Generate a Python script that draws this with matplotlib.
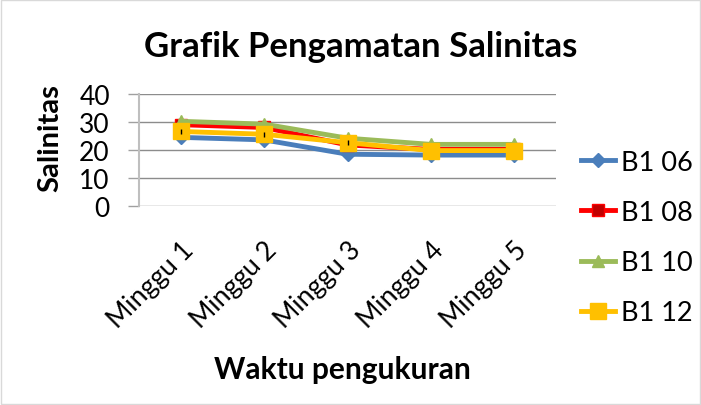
import numpy as np
import matplotlib.pyplot as plt

# data
minggu = ['Minggu 1', 'Minggu 2', 'Minggu 3', 'Minggu 4', 'Minggu 5']
b1_06 = [24.5, 23.6, 18.5, 18.2, 18.2]
b1_08 = [29.0, 28.0, 21.8, 20.2, 20.2]
b1_10 = [30.2, 29.2, 24.2, 22.0, 22.0]
b1_12 = [26.6, 25.6, 22.6, 19.8, 19.8]
err_b1_12 = [0.9, 0.9, 0.9, 0, 0]

plt.rcParams['font.family'] = ['Lato', 'DejaVu Sans']

fig = plt.figure(figsize=(7.01, 4.06), dpi=100)
ax = fig.add_axes([0.1983, 0.4894, 0.7932 - 0.1983, 0.7667 - 0.4894])

x = np.arange(len(minggu))
ax.plot(x, b1_06, color='#4A7EBB', lw=3.5, marker='D', ms=7, label='B1 06', zorder=3)
ax.plot(x, b1_08, color='#FF0000', lw=3.5, marker='s', ms=9, mfc='#C00000', mec='#FF0000', label='B1 08', zorder=3)
ax.plot(x, b1_10, color='#9BBB59', lw=3.5, marker='^', ms=9, label='B1 10', zorder=3)
ax.plot(x, b1_12, color='#FFC000', lw=3.5, marker='s', ms=11, label='B1 12', zorder=4)
ax.errorbar(x, b1_12, yerr=err_b1_12, fmt='none', ecolor='black', elinewidth=1, capsize=0, zorder=5)

ax.set_xlim(-0.5, 4.5)
ax.set_ylim(0, 40)
ax.set_yticks([0, 10, 20, 30, 40])
ax.set_xticks(x)
ax.set_xticklabels(minggu, rotation=45, ha='right', rotation_mode='anchor')
ax.tick_params(axis='y', labelsize=19, length=8, width=1, color='#A0A0A0', pad=13)
ax.tick_params(axis='x', labelsize=19, length=0, pad=22)
ax.grid(axis='y', color='#8C8C8C', lw=1)
ax.set_axisbelow(True)
for s in ['top', 'right', 'bottom']:
    ax.spines[s].set_visible(False)
ax.spines['left'].set_color('#BFBFBF')
ax.spines['left'].set_linewidth(1.5)

ax.set_ylabel('Salinitas', fontsize=21, fontweight='bold')
ax.yaxis.set_label_coords(-0.182, 0.615)
fig.text(0.488, 0.089, 'Waktu pengukuran', fontsize=21.5, fontweight='bold', ha='center', va='center')
fig.text(0.514, 0.885, 'Grafik Pengamatan Salinitas', fontsize=25, fontweight='bold', ha='center', va='center')

ax.legend(loc='center left', bbox_to_anchor=(1.035, -0.277), frameon=False, fontsize=19.5,
          handlelength=1.25, labelspacing=0.93, handletextpad=0.2, borderaxespad=0)

fig.patches.append(plt.Rectangle((0.002, 0.003), 0.996, 0.994, transform=fig.transFigure,
                                 fill=False, edgecolor='#D9D9D9', lw=1))

fig.savefig('out.png', dpi=100)
